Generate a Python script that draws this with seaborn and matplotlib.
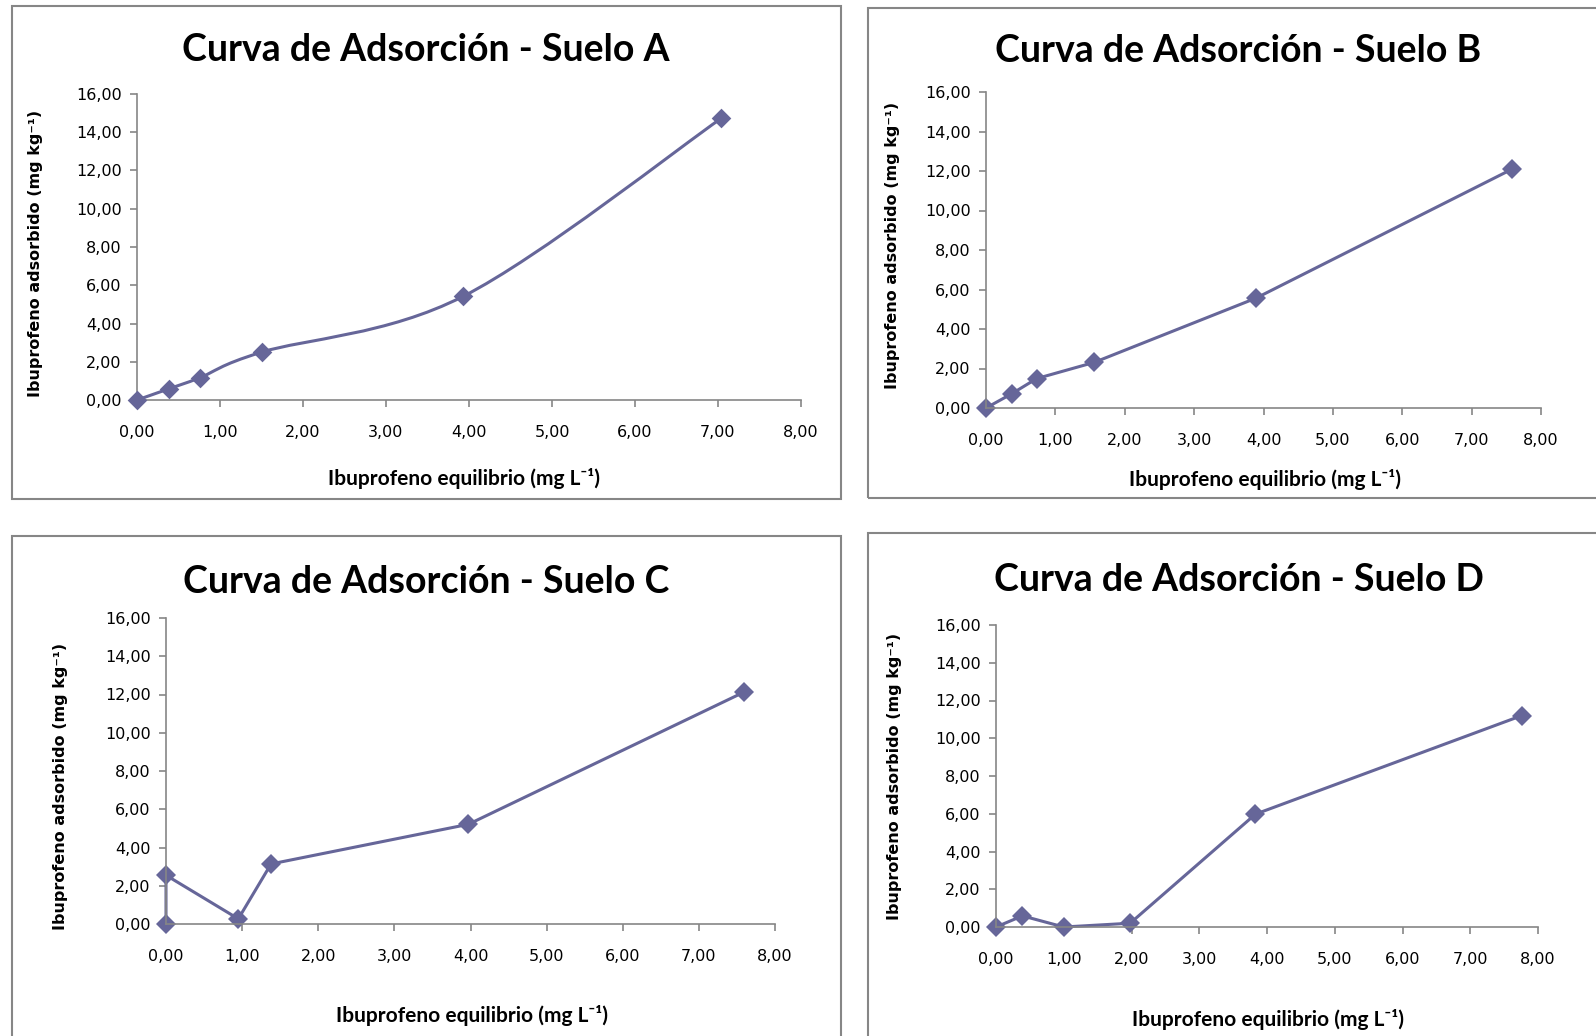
import seaborn as sns
import matplotlib.pyplot as plt
from matplotlib.path import Path
from matplotlib.patches import PathPatch, Rectangle

# ======================
# Data
# ======================
suelo_a_x = [0.00, 0.38, 0.76, 1.50, 3.93, 7.04]
suelo_a_y = [0.00, 0.58, 1.17, 2.50, 5.42, 14.73]

suelo_b_x = [0.00, 0.37, 0.73, 1.56, 3.89, 7.58]
suelo_b_y = [0.00, 0.72, 1.49, 2.31, 5.56, 12.09]

suelo_c_x = [0.00, 0.00, 0.95, 1.38, 3.97, 7.59]
suelo_c_y = [0.00, 2.55, 0.27, 3.14, 5.21, 12.12]

suelo_d_x = [0.00, 0.39, 1.00, 1.98, 3.83, 7.76]
suelo_d_y = [0.00, 0.59, 0.00, 0.20, 5.98, 11.20]

titles = ["Curva de Adsorción - Suelo A", "Curva de Adsorción - Suelo B",
          "Curva de Adsorción - Suelo C", "Curva de Adsorción - Suelo D"]
x_ticks = [0, 1, 2, 3, 4, 5, 6, 7, 8]
y_ticks = [0, 2, 4, 6, 8, 10, 12, 14, 16]
x_tick_labels = ["0,00", "1,00", "2,00", "3,00", "4,00", "5,00", "6,00", "7,00", "8,00"]
y_tick_labels = ["0,00", "2,00", "4,00", "6,00", "8,00", "10,00", "12,00", "14,00", "16,00"]
x_label = "Ibuprofeno equilibrio (mg L⁻¹)"
y_label = "Ibuprofeno adsorbido (mg kg⁻¹)"

# ======================
# Style
# ======================
W, H = 1596, 1036
LINE_COLOR = "#666699"
AXIS_COLOR = "#868686"
NARROW = ["Lato", "DejaVu Sans"]

sns.set_theme(style="white")
plt.rcParams["font.family"] = ["DejaVu Sans"]
plt.rcParams["text.color"] = "black"

# panel layout in pixels: axes (x0, x8, y0, y16), border (l, t, r, b),
# title centre, xlabel centre, ylabel centre
panels = [
    dict(ax=(137, 801, 400, 94), box=(12, 6, 841, 499),
         title=(426, 50), xl=(464, 478), yl=(36, 253), smooth=True),
    dict(ax=(986, 1541, 408, 92), box=(868, 8, 1600, 498),
         title=(1238, 51), xl=(1265, 479), yl=(892, 245), smooth=False),
    dict(ax=(166, 775, 924, 618), box=(12, 536, 841, 1040),
         title=(426, 582), xl=(472, 1016), yl=(61, 786), smooth=False),
    dict(ax=(996, 1538, 927, 625), box=(868, 533, 1600, 1040),
         title=(1239, 580), xl=(1268, 1019), yl=(894, 776), smooth=False),
]
series = [(suelo_a_x, suelo_a_y), (suelo_b_x, suelo_b_y),
          (suelo_c_x, suelo_c_y), (suelo_d_x, suelo_d_y)]


def excel_smooth_path(xs, ys):
    # Bezier path like Excel's "smoothed line" (Catmull-Rom control points)
    pts = list(zip(xs, ys))
    n = len(pts)
    verts = [pts[0]]
    codes = [Path.MOVETO]
    for i in range(n - 1):
        p0 = pts[max(i - 1, 0)]
        p1 = pts[i]
        p2 = pts[i + 1]
        p3 = pts[min(i + 2, n - 1)]
        c1 = (p1[0] + (p2[0] - p0[0]) / 6, p1[1] + (p2[1] - p0[1]) / 6)
        c2 = (p2[0] - (p3[0] - p1[0]) / 6, p2[1] - (p3[1] - p1[1]) / 6)
        verts += [c1, c2, p2]
        codes += [Path.CURVE4] * 3
    return Path(verts, codes)


fig = plt.figure(figsize=(W / 100, H / 100), dpi=100)

for p, (xs, ys), title in zip(panels, series, titles):
    l, t, r, b = p["box"]
    fig.patches.append(Rectangle((l / W, 1 - b / H), (r - l) / W, (b - t) / H,
                                 transform=fig.transFigure, fill=False,
                                 edgecolor=AXIS_COLOR, linewidth=1.5))

    x0, x8, y0, y16 = p["ax"]
    ax = fig.add_axes([x0 / W, 1 - y0 / H, (x8 - x0) / W, (y0 - y16) / H])

    if p["smooth"]:
        ax.add_patch(PathPatch(excel_smooth_path(xs, ys), fill=False,
                               edgecolor=LINE_COLOR, linewidth=2.2,
                               clip_on=False))
        sns.scatterplot(x=xs, y=ys, ax=ax, marker="D", s=100, color=LINE_COLOR,
                        linewidth=0, clip_on=False, zorder=3)
    else:
        sns.lineplot(x=xs, y=ys, ax=ax, sort=False, estimator=None,
                     color=LINE_COLOR, linewidth=2.2, marker="D",
                     markersize=10, markeredgewidth=0, clip_on=False)

    ax.set_xlim(0, 8)
    ax.set_ylim(0, 16)
    ax.set_xticks(x_ticks)
    ax.set_xticklabels(x_tick_labels)
    ax.set_yticks(y_ticks)
    ax.set_yticklabels(y_tick_labels)
    sns.despine(ax=ax)
    for side in ["left", "bottom"]:
        ax.spines[side].set_color(AXIS_COLOR)
        ax.spines[side].set_linewidth(1.2)
    ax.tick_params(axis="both", direction="out", length=5, width=1.2,
                   color=AXIS_COLOR, labelsize=11.5, labelcolor="black")
    ax.tick_params(axis="x", bottom=True, pad=13)
    ax.tick_params(axis="y", left=True, pad=6)
    ax.set_facecolor("none")

    fig.text(p["title"][0] / W, 1 - p["title"][1] / H, title,
             ha="center", va="center", fontsize=27, fontweight="bold",
             family=NARROW)
    fig.text(p["xl"][0] / W, 1 - p["xl"][1] / H, x_label,
             ha="center", va="center", fontsize=15, fontweight="bold",
             family=NARROW)
    fig.text(p["yl"][0] / W, 1 - p["yl"][1] / H, y_label,
             ha="center", va="center", fontsize=11.5, fontweight="bold",
             rotation=90)

fig.savefig("out.png", dpi=100, facecolor="white")
